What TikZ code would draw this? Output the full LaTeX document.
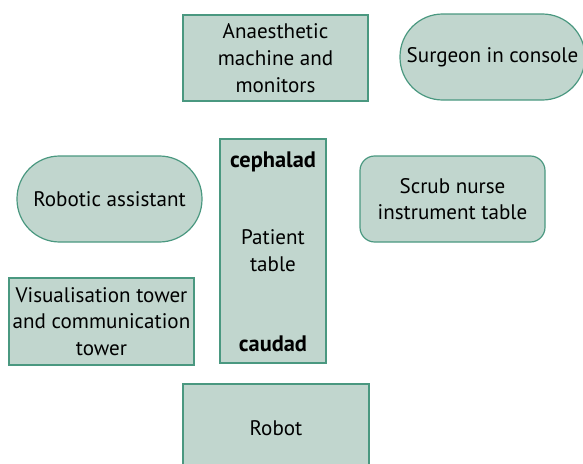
\documentclass[tikz,border=0pt]{standalone}
\usepackage{fontspec}
\setmainfont{PT Sans}
\usetikzlibrary{positioning}

\definecolor{boxfill}{RGB}{193,214,206}
\definecolor{boxline}{RGB}{74,152,128}

\tikzset{
	room/.style={draw=boxline, fill=boxfill, line width=0.9pt, align=center,
		inner sep=2pt, font=\fontsize{15.8}{20}\selectfont},
	squarebox/.style={room, rectangle},
	roundbox/.style={room, rectangle, rounded corners=11pt},
	pillbox/.style={room, rectangle, rounded corners=32pt},
	tag/.style={font=\fontsize{16.8}{20}\selectfont\bfseries, inner sep=0pt}
}

\begin{document}
\begin{tikzpicture}[x=0.75pt, y=-0.75pt]
		\useasboundingbox (0,0) rectangle (583,464);
		\node [squarebox, minimum width=138.75pt, minimum height=64.5pt]
			(anaes) at (275.5,58) {Anaesthetic\\machine and\\monitors};
		\node [pillbox, minimum width=138.75pt, minimum height=64.5pt]
			(surgeon) at (492.5,57) {Surgeon in console};
		\node [pillbox, minimum width=138.75pt, minimum height=64.5pt]
			(assistant) at (109.5,199) {Robotic assistant};
		\node [squarebox, minimum width=79.5pt, minimum height=168pt]
			(patient) at (273,251) {Patient\\table};
		\node [tag, below=10pt of patient.north] (cephalad) {cephalad};
		\node [tag, above=9pt of patient.south] (caudad) {caudad};
		\node [roundbox, minimum width=138.75pt, minimum height=64.5pt]
			(scrub) at (452.5,199) {Scrub nurse\\instrument table};
		\node [squarebox, minimum width=138.75pt, minimum height=65.25pt]
			(tower) at (101.5,321.5) {Visualisation tower\\and communication\\tower};
		\node [squarebox, minimum width=139.5pt, minimum height=66pt]
			(robot) at (276,428) {Robot};
	\end{tikzpicture}
\end{document}
